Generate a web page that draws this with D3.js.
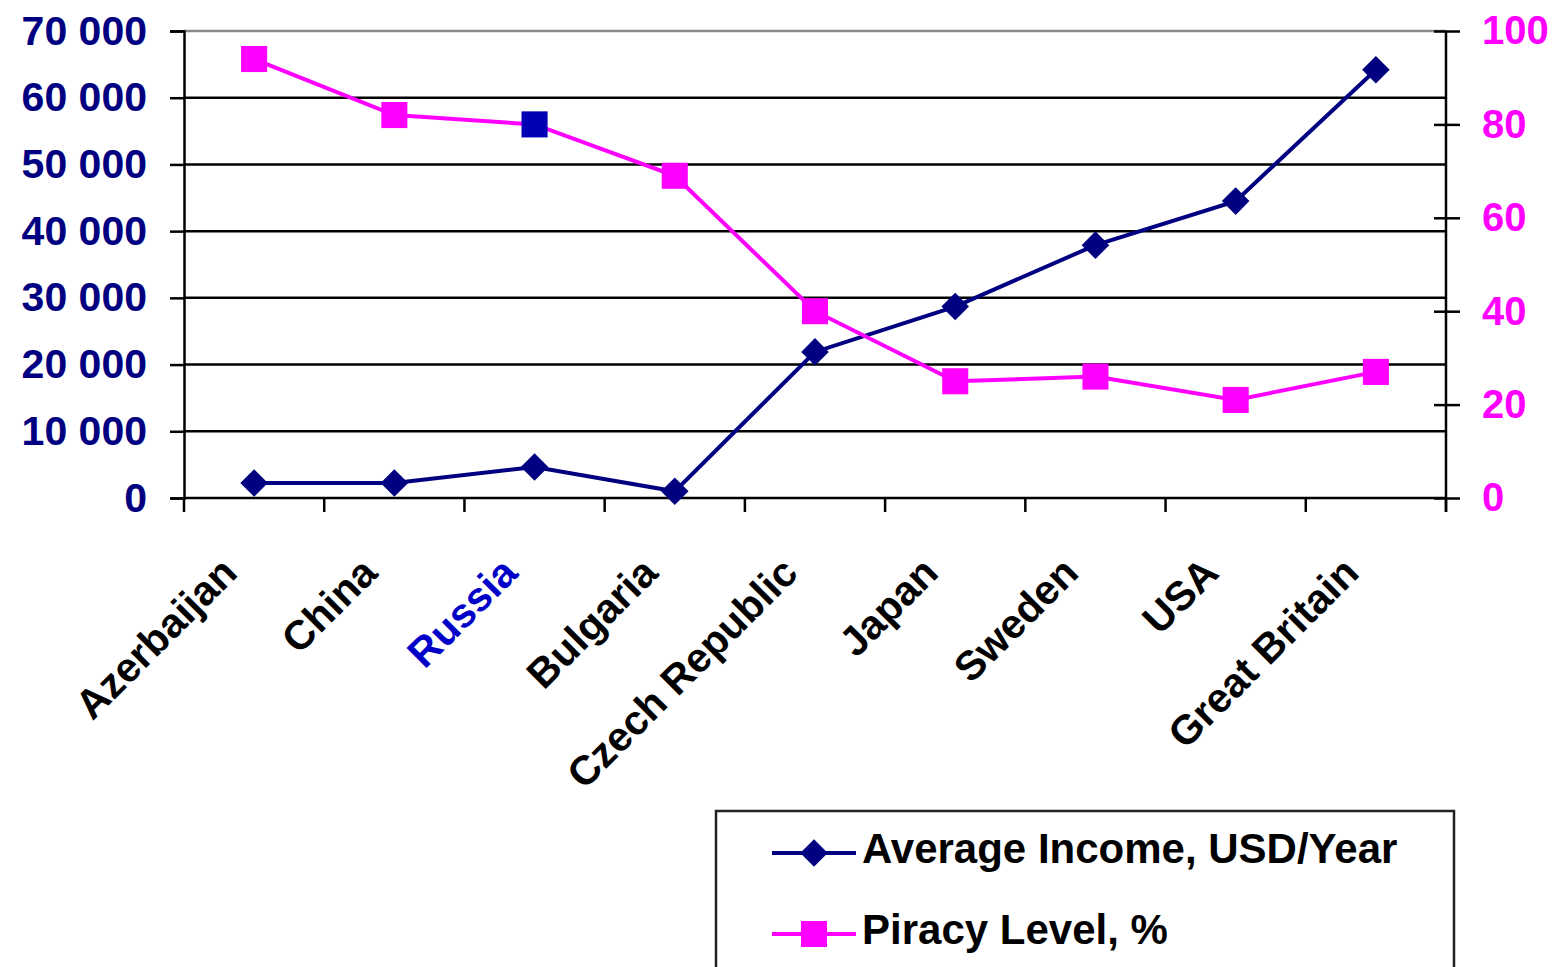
<!DOCTYPE html>
<html>
<head>
<meta charset="utf-8">
<script src="https://cdn.jsdelivr.net/npm/d3@7"></script>
<style>
  html, body { margin: 0; padding: 0; background: #fff; }
  svg { display: block; font-family: "Liberation Sans", Arial, sans-serif; font-weight: bold; }
  .domain { stroke: #000; stroke-width: 2.5; }
  .tick line { stroke: #000; stroke-width: 2.5; }
</style>
</head>
<body>
<svg id="chart"></svg>
<script>
// Income vs. software piracy level, by country

const countries = ["Azerbaijan", "China", "Russia", "Bulgaria", "Czech Republic", "Japan", "Sweden", "USA", "Great Britain"];
const incomeUSD = [2250, 2250, 4650, 1000, 21900, 28700, 37900, 44500, 64200];
const piracyPct = [94, 82, 80, 69, 40, 25, 26, 21, 27];
const incomeTicks = [0, 10000, 20000, 30000, 40000, 50000, 60000, 70000];
const piracyTicks = [0, 20, 40, 60, 80, 100];
const highlightCountry = "Russia";
const seriesNames = ["Average Income, USD/Year", "Piracy Level, %"];

(function () {
    const WIDTH = 1555;
    const HEIGHT = 967;
    const LEFT = 184, RIGHT = 1446, TOP = 31, BOTTOM = 498;

    const NAVY = '#000080';
    const MAGENTA = '#ff00ff';
    const HILITE = '#0000b4';

    const svg = d3.select('#chart')
        .attr('width', WIDTH)
        .attr('height', HEIGHT);

    const x = d3.scaleBand().domain(countries).range([LEFT, RIGHT]);
    const yIncome = d3.scaleLinear().domain([0, 70000]).range([BOTTOM, TOP]);
    const yPiracy = d3.scaleLinear().domain([0, 100]).range([BOTTOM, TOP]);
    const cx = c => x(c) + x.bandwidth() / 2;

    const spaced = d => d3.format(',')(d).replace(/,/g, ' ');

    // horizontal gridlines
    svg.append('g')
        .selectAll('line')
        .data(incomeTicks.slice(1))
        .join('line')
        .attr('x1', LEFT).attr('x2', RIGHT)
        .attr('y1', d => yIncome(d)).attr('y2', d => yIncome(d))
        .attr('stroke', d => d === 70000 ? '#8a8a8a' : '#000')
        .attr('stroke-width', 2.5);

    // left axis
    const leftAxis = svg.append('g')
        .attr('transform', `translate(${LEFT},0)`)
        .call(d3.axisLeft(yIncome).tickValues(incomeTicks).tickFormat(spaced).tickSize(14).tickPadding(23));
    leftAxis.selectAll('text')
        .attr('font-size', 41).attr('font-family', null).attr('fill', NAVY);

    // right axis, ticks cross the line
    const rightAxis = svg.append('g')
        .attr('transform', `translate(${RIGHT},0)`)
        .call(d3.axisRight(yPiracy).tickValues(piracyTicks).tickSize(14).tickPadding(22));
    rightAxis.select('.domain').attr('d', `M0,${TOP}V${BOTTOM + 14}`);
    rightAxis.selectAll('.tick line').attr('x1', -12);
    rightAxis.selectAll('text')
        .attr('font-size', 40).attr('font-family', null).attr('fill', MAGENTA);

    // bottom axis: ticks on category boundaries
    const bounds = d3.range(countries.length + 1).map(i => LEFT + i * x.step());
    const bottom = svg.append('g');
    bottom.append('line')
        .attr('x1', LEFT).attr('x2', RIGHT)
        .attr('y1', BOTTOM).attr('y2', BOTTOM)
        .attr('stroke', '#000').attr('stroke-width', 2.5);
    bottom.selectAll('line.tk')
        .data(bounds)
        .join('line')
        .attr('class', 'tk')
        .attr('x1', d => d).attr('x2', d => d)
        .attr('y1', BOTTOM).attr('y2', BOTTOM + 14)
        .attr('stroke', '#000').attr('stroke-width', 2.5);

    bottom.selectAll('text')
        .data(countries)
        .join('text')
        .attr('transform', d => `translate(${cx(d) - 15},${575}) rotate(-45)`)
        .attr('text-anchor', 'end')
        .attr('font-size', 41)
        .attr('fill', d => d === highlightCountry ? '#0000c8' : '#000')
        .text(d => d);

    // series
    const incomeLine = d3.line().x((d, i) => cx(countries[i])).y(d => yIncome(d));
    const piracyLine = d3.line().x((d, i) => cx(countries[i])).y(d => yPiracy(d));

    svg.append('path')
        .datum(incomeUSD)
        .attr('d', incomeLine)
        .attr('fill', 'none')
        .attr('stroke', NAVY)
        .attr('stroke-width', 4);

    const diamond = d3.symbol(d3.symbolSquare, 380);
    const square = d3.symbol(d3.symbolSquare, 680);

    svg.append('g')
        .selectAll('path')
        .data(incomeUSD)
        .join('path')
        .attr('d', diamond)
        .attr('transform', (d, i) => `translate(${cx(countries[i])},${yIncome(d)}) rotate(45)`)
        .attr('fill', NAVY);

    svg.append('path')
        .datum(piracyPct)
        .attr('d', piracyLine)
        .attr('fill', 'none')
        .attr('stroke', MAGENTA)
        .attr('stroke-width', 4);

    svg.append('g')
        .selectAll('path')
        .data(piracyPct)
        .join('path')
        .attr('d', square)
        .attr('transform', (d, i) => `translate(${cx(countries[i])},${yPiracy(d)})`)
        .attr('fill', (d, i) => countries[i] === highlightCountry ? HILITE : MAGENTA);

    // legend
    const legend = svg.append('g');
    legend.append('rect')
        .attr('x', 716).attr('y', 811)
        .attr('width', 738).attr('height', 220)
        .attr('fill', '#fff')
        .attr('stroke', '#222').attr('stroke-width', 2.5);

    const items = [
        { name: seriesNames[0], color: NAVY, sym: diamond, rot: 45 },
        { name: seriesNames[1], color: MAGENTA, sym: square, rot: 0 }
    ];
    const row = legend.selectAll('g.item')
        .data(items)
        .join('g')
        .attr('class', 'item')
        .attr('transform', (d, i) => `translate(772,${853 + i * 81})`);
    row.append('line')
        .attr('x1', 0).attr('x2', 84)
        .attr('stroke', d => d.color).attr('stroke-width', 4);
    row.append('path')
        .attr('d', d => d.sym())
        .attr('transform', d => `translate(42,0) rotate(${d.rot})`)
        .attr('fill', d => d.color);
    row.append('text')
        .attr('x', 90).attr('y', 10)
        .attr('font-size', 42)
        .attr('fill', '#000')
        .text(d => d.name);
})();
</script>
</body>
</html>
